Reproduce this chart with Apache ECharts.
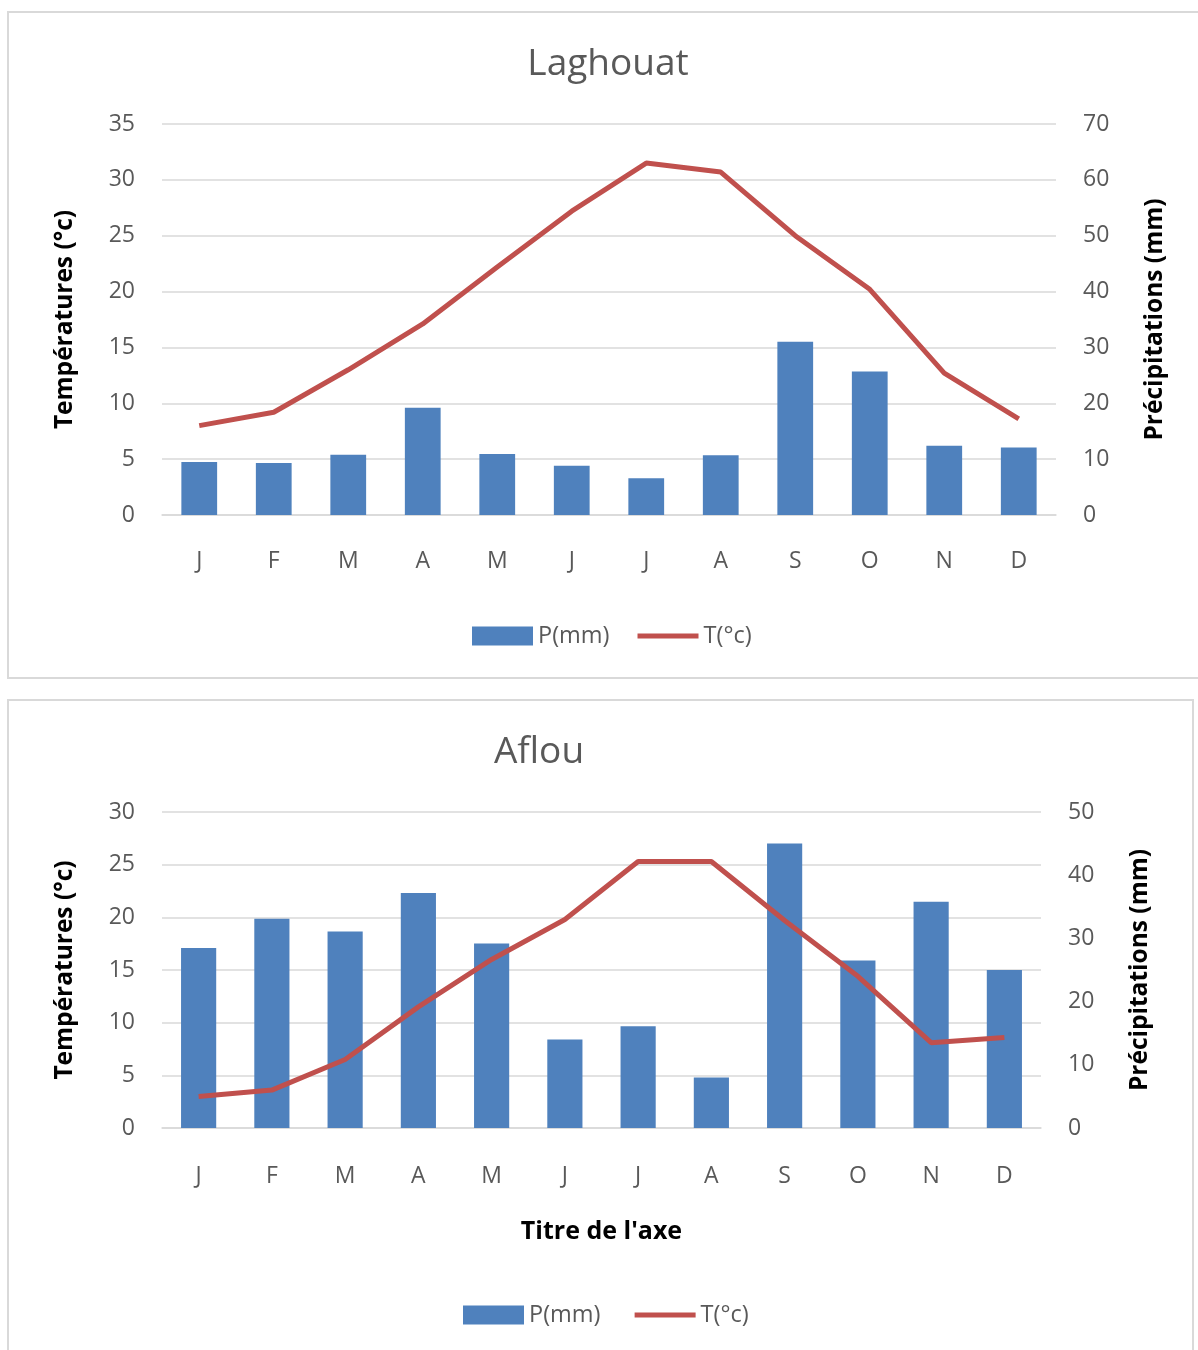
<!DOCTYPE html>
<html>
<head>
<meta charset="utf-8">
<script src="https://cdn.jsdelivr.net/npm/echarts@6/dist/echarts.min.js"></script>
<style>
html,body{margin:0;padding:0;background:#fff;}
#c{width:1198px;height:1350px;}
</style>
</head>
<body>
<div id="c"></div>
<script>
const months = ['J','F','M','A','M','J','J','A','S','O','N','D'];
const laghouatP = [9.5, 9.3, 10.8, 19.2, 10.9, 8.8, 6.6, 10.7, 31.0, 25.7, 12.4, 12.1];
const laghouatT = [8.0, 9.2, 13.0, 17.1, 22.2, 27.2, 31.5, 30.7, 25.0, 20.2, 12.7, 8.6];
const aflouP = [28.5, 33.1, 31.1, 37.2, 29.2, 14.0, 16.1, 8.0, 45.0, 26.5, 35.8, 25.0];
const aflouT = [3.0, 3.6, 6.5, 11.5, 16.0, 19.8, 25.3, 25.3, 19.7, 14.4, 8.1, 8.6];
const titles = ['Laghouat', 'Aflou'];
const nameP = 'P(mm)';
const nameT = 'T(°c)';

const FONT = '"Open Sans", "Noto Sans", sans-serif';
const GREY = '#595959';
const GRID = '#d9d9d9';
const BLUE = '#4f81bd';
const RED = '#c0504d';
const LINE_ICON = 'path://M0,0h60v5h-60z';

const chart = echarts.init(document.getElementById('c'), null, {renderer: 'canvas'});

function yAx(gridIndex, max, interval, name, right) {
  return {
    type: 'value', gridIndex, min: 0, max, interval,
    position: right ? 'right' : 'left',
    name, nameLocation: 'middle', nameRotate: 90,
    nameGap: right ? 87 : 84,
    nameTextStyle: {fontFamily: FONT, fontWeight: 'bold', fontSize: 24.5, color: '#000'},
    axisLine: {show: false}, axisTick: {show: false},
    axisLabel: {fontFamily: FONT, fontSize: 23, color: GREY, margin: 27},
    splitLine: {show: !right, lineStyle: {color: GRID, width: 1.5}}
  };
}
function xAx(gridIndex, name, margin) {
  const o = {
    type: 'category', gridIndex, data: months,
    axisLine: {lineStyle: {color: GRID, width: 1.5}},
    axisTick: {show: false},
    axisLabel: {fontFamily: FONT, fontSize: 23, color: GREY, margin}
  };
  if (name) {
    o.name = name; o.nameLocation = 'middle'; o.nameGap = 91;
    o.nameTextStyle = {fontFamily: FONT, fontWeight: 'bold', fontSize: 25, color: '#000'};
  }
  return o;
}
function legend(left, top, suffix) {
  return {
    left, top, padding: 0, itemWidth: 61, itemHeight: 19, itemGap: 28,
    textStyle: {fontFamily: FONT, fontSize: 23.5, color: GREY},
    data: [{name: nameP + suffix, icon: 'rect'}, {name: nameT + suffix, icon: LINE_ICON}]
  };
}

const option = {
  animation: false,
  backgroundColor: '#fff',
  graphic: [
    {type: 'rect', shape: {x: 8, y: 12, width: 1200, height: 666}, style: {fill: 'none', stroke: GRID, lineWidth: 2}, silent: true},
    {type: 'rect', shape: {x: 8, y: 700, width: 1185, height: 720}, style: {fill: 'none', stroke: GRID, lineWidth: 2}, silent: true}
  ],
  title: [
    {text: titles[0], left: 603, top: 41, textAlign: 'center', textStyle: {fontFamily: FONT, fontSize: 37, fontWeight: 'normal', color: GREY}},
    {text: titles[1], left: 534, top: 729, textAlign: 'center', textStyle: {fontFamily: FONT, fontSize: 37, fontWeight: 'normal', color: GREY}}
  ],
  legend: [legend(472, 624, ''), legend(463, 1303, ' ')],
  grid: [
    {left: 162, top: 124, width: 894, height: 391},
    {left: 162, top: 812, width: 879, height: 316}
  ],
  xAxis: [xAx(0, null, 35), xAx(1, "Titre de l'axe", 37)],
  yAxis: [
    yAx(0, 35, 5, 'Températures (°c)', false),
    yAx(0, 70, 10, 'Précipitations (mm)', true),
    yAx(1, 30, 5, 'Températures (°c)', false),
    yAx(1, 50, 10, 'Précipitations (mm)', true)
  ],
  series: [
    {name: nameP, type: 'bar', xAxisIndex: 0, yAxisIndex: 1, data: laghouatP, barWidth: '48%', itemStyle: {color: BLUE}},
    {name: nameT, type: 'line', xAxisIndex: 0, yAxisIndex: 0, data: laghouatT, symbol: 'none', lineStyle: {color: RED, width: 5}, itemStyle: {color: RED}},
    {name: nameP + ' ', type: 'bar', xAxisIndex: 1, yAxisIndex: 3, data: aflouP, barWidth: '48%', itemStyle: {color: BLUE}},
    {name: nameT + ' ', type: 'line', xAxisIndex: 1, yAxisIndex: 2, data: aflouT, symbol: 'none', lineStyle: {color: RED, width: 5}, itemStyle: {color: RED}}
  ]
};
chart.setOption(option);
</script>
</body>
</html>
